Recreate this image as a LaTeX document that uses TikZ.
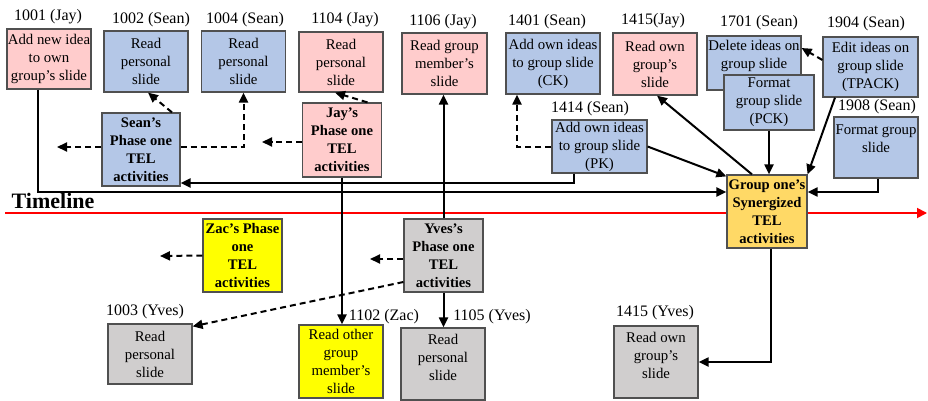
\documentclass[tikz,border=0pt]{standalone}
\usepackage{fontspec}
\setmainfont{Liberation Serif}
\usetikzlibrary{arrows.meta}
\definecolor{pinkfill}{HTML}{FFCCCC}
\definecolor{bluefill}{HTML}{B4C7E7}
\definecolor{grayfill}{HTML}{D0CECE}
\definecolor{zacfill}{HTML}{FFFF00}
\definecolor{goldfill}{HTML}{FFD966}
\definecolor{boxline}{HTML}{505050}
\begin{document}
\begin{tikzpicture}[x=1pt,y=-1pt,
  box/.style={draw=boxline, line width=1.2pt, align=center, inner xsep=1pt, inner ysep=1pt,
              font=\fontsize{14.8}{18}\selectfont},
  phase/.style={box, inner xsep=0pt, font=\bfseries\fontsize{14.6}{18}\selectfont},
  sz/.style 2 args={minimum width=#1pt, minimum height=#2pt},
  tag/.style={inner sep=0pt, font=\fontsize{16}{19}\selectfont},
  flow/.style={line width=2pt, -{Triangle[length=10pt,width=9pt]}},
  hint/.style={flow, dash pattern=on 6pt off 4pt},
]
\useasboundingbox (0,0) rectangle (928,401);

% timeline
\node[inner sep=0pt, font=\bfseries\fontsize{22}{24}\selectfont] (tl) at (53,201) {Timeline};
\coordinate (t0) at (5,213);
\coordinate (t1) at (927,213);
\draw[red, line width=1.8pt, -{Triangle[length=10pt,width=10pt]}] (t0) -- (t1);

% upper row of activities
\node[box, fill=pinkfill, sz={84}{60}] (n1001) at (49,59) {Add new idea\\to own\\group’s slide};
\node[box, fill=bluefill, sz={84}{61}] (n1002) at (146,61.5) {Read\\personal\\slide};
\node[box, fill=bluefill, sz={84}{61}] (n1004) at (243.5,61.5) {Read\\personal\\slide};
\node[box, fill=pinkfill, sz={84}{60}] (n1104) at (341,62) {Read\\personal\\slide};
\node[box, fill=pinkfill, sz={85}{61}] (n1106) at (444.5,63.5) {Read group\\member’s\\slide};
\node[box, fill=bluefill, sz={94}{61}] (n1401) at (553,63.5) {Add own ideas\\to group slide\\(CK)};
\node[box, fill=bluefill, sz={95}{53}] (n1414) at (599.5,146.5) {Add own ideas\\to group slide\\(PK)};
\node[box, fill=pinkfill, sz={84}{62}] (n1415J) at (655,64) {Read own\\group’s\\slide};
\node[box, fill=bluefill, sz={94}{54}] (n1701) at (754,63) {Delete ideas on\\group slide\\\mbox{}};
\node[box, fill=bluefill, sz={90}{55}] (nPCK) at (769,102.5) {Format\\group slide\\(PCK)};
\node[box, fill=bluefill, sz={95}{60}] (n1904) at (870.5,67) {Edit ideas on\\group slide\\(TPACK)};
\node[box, fill=bluefill, sz={84}{61}] (n1908) at (876,147.5) {Format group\\slide\\\mbox{}};

% phase one boxes
\node[phase, fill=bluefill, sz={78}{73}] (nSean) at (141,149.5) {Sean’s\\Phase one\\TEL\\activities};
\node[phase, fill=pinkfill, sz={79}{74}] (nJay) at (342,140) {Jay’s\\Phase one\\TEL\\activities};
\node[phase, fill=goldfill, sz={80}{73}] (nGroup) at (767,211.5) {Group one’s\\Synergized\\TEL\\activities};
\node[phase, fill=zacfill, sz={79}{73}] (nZac) at (242.5,255.5) {Zac’s Phase\\one\\TEL\\activities};
\node[phase, fill=grayfill, sz={79}{73}] (nYves) at (443.5,255.5) {Yves’s\\Phase one\\TEL\\activities};

% lower row of activities
\node[box, fill=grayfill, sz={84}{60}] (n1003) at (150,354) {Read\\personal\\slide};
\node[box, fill=zacfill, sz={84}{73}] (n1102) at (341,361.5) {Read other\\group\\member’s\\slide};
\node[box, fill=grayfill, sz={84}{72}] (n1105) at (443,364) {Read\\personal\\slide\\[-4pt]\mbox{}};
\node[box, fill=grayfill, sz={84}{72}] (n1415Y) at (656,362) {Read own\\group’s\\slide\\[-4pt]\mbox{}};

% activity codes
\node[tag] (l1001) at (48,17) {1001 (Jay)};
\node[tag] (l1002) at (151,20) {1002 (Sean)};
\node[tag] (l1004) at (245,20) {1004 (Sean)};
\node[tag] (l1104) at (345,20) {1104 (Jay)};
\node[tag] (l1106) at (443,22) {1106 (Jay)};
\node[tag] (l1401) at (547,22) {1401 (Sean)};
\node[tag] (l1414) at (590,109) {1414 (Sean)};
\node[tag] (l1415J) at (653,21) {1415(Jay)};
\node[tag] (l1701) at (759,23) {1701 (Sean)};
\node[tag] (l1904) at (866,24) {1904 (Sean)};
\node[tag] (l1908) at (877,107) {1908 (Sean)};
\node[tag] (l1003) at (145,312) {1003 (Yves)};
\node[tag] (l1102) at (384,317) {1102 (Zac)};
\node[tag] (l1105) at (492,317) {1105 (Yves)};
\node[tag] (l1415Y) at (655,313) {1415 (Yves)};

% free ends of the outgoing dashed arrows
\coordinate (seanout) at (57,147);
\coordinate (jayout) at (262,142);
\coordinate (zacout) at (160,256);
\coordinate (yvesout) at (370,259);

% solid connectors
\draw[flow] ([xshift=-11pt]n1001.south) |- ([yshift=19.5pt]nGroup.west);
\draw[flow] ([xshift=-25.5pt]n1414.south) |- ([yshift=-33.5pt]nSean.east);
\draw[flow] (nJay.south) -- (nJay.south |- n1102.north);
\draw[flow] (nYves.north) -- (nYves.north |- n1106.south);
\draw[flow] (nYves.south) -- (nYves.south |- n1105.north);
\draw[flow] (n1414.east) -- ([yshift=-2pt]nGroup.north west);
\draw[flow] ([xshift=-15pt]nGroup.north) -- ([xshift=2pt]n1415J.south);
\draw[flow] (nPCK.south) -- (nPCK.south |- nGroup.north);
\draw[flow] ([xshift=-35.5pt]n1904.south) -- (nGroup.north east);
\draw[flow] ([xshift=2pt]n1908.south) |- ([yshift=19.5pt]nGroup.east);
\draw[flow] ([xshift=4pt]nGroup.south) |- (n1415Y.east);

% dashed connectors
\draw[hint] ([xshift=31pt]nSean.north) -- ([xshift=2pt]n1002.south);
\draw[hint] ([yshift=2.5pt]nSean.east) -| (n1004.south);
\draw[hint] ([yshift=2.5pt]nSean.west) -- (seanout);
\draw[hint] ([yshift=-2pt]nJay.west) -- (jayout);
\draw[hint] ([xshift=25.5pt]nJay.north) -- ([xshift=-6pt]n1104.south);
\draw[hint] (n1414.west) -| ([xshift=-36pt]n1401.south);
\draw[hint] ([yshift=7pt]n1904.west) -- ([yshift=15pt]n1701.east);
\draw[hint] (nZac.west) -- (zacout);
\draw[hint] ([yshift=-3.5pt]nYves.west) -- (yvesout);
\draw[hint] ([yshift=-26.5pt]nYves.west) -- ([yshift=-3pt]n1003.north east);
\end{tikzpicture}
\end{document}
